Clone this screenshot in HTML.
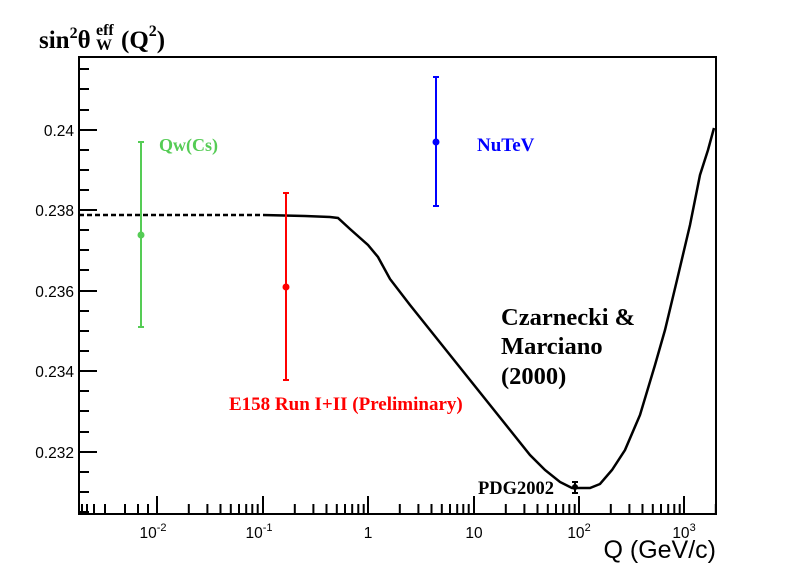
<!DOCTYPE html>
<html><head><style>
body{margin:0;background:#fff;}
svg{display:block;}
.b{font-family:"Liberation Serif",serif;font-weight:bold;}
.s{font-family:"Liberation Sans",sans-serif;}
</style></head><body>
<svg width="796" height="572" xmlns="http://www.w3.org/2000/svg">
<rect width="796" height="572" fill="#fff"/>
<rect x="79" y="57" width="637" height="457" fill="none" stroke="#000" stroke-width="2"/>
<g stroke="#000" stroke-width="2">
<path d="M79 130h18M79 210h18M79 291h18M79 371h18M79 452h18"/>
<path d="M79 69h10M79 89h10M79 110h10M79 150h10M79 170h10M79 190h10M79 230h10M79 250h10M79 270h10M79 311h10M79 331h10M79 351h10M79 391h10M79 411h10M79 432h10M79 472h10M79 492h10M79 512h10"/>
<path d="M157 514v-18M263 514v-18M368 514v-18M474 514v-18M579 514v-18M684 514v-18"/>
</g>
<g stroke="#000" stroke-width="2" fill="none">
<path d="M82 514v-10M87 514v-10M94 514v-10M105 514v-10M125 514v-10M138 514v-10M148 514v-10M157 514v-10"/>
<path d="M0 514v-10M31.8 514v-10M50.4 514v-10M63.5 514v-10M73.8 514v-10M82 514v-10M89.2 514v-10M95.3 514v-10M100.7 514v-10" transform="translate(157,0)"/>
<path d="M0 514v-10M31.8 514v-10M50.4 514v-10M63.5 514v-10M73.8 514v-10M82 514v-10M89.2 514v-10M95.3 514v-10M100.7 514v-10" transform="translate(263,0)"/>
<path d="M0 514v-10M31.8 514v-10M50.4 514v-10M63.5 514v-10M73.8 514v-10M82 514v-10M89.2 514v-10M95.3 514v-10M100.7 514v-10" transform="translate(368,0)"/>
<path d="M0 514v-10M31.8 514v-10M50.4 514v-10M63.5 514v-10M73.8 514v-10M82 514v-10M89.2 514v-10M95.3 514v-10M100.7 514v-10" transform="translate(474,0)"/>
<path d="M0 514v-10M31.8 514v-10M50.4 514v-10M63.5 514v-10M73.8 514v-10M82 514v-10M89.2 514v-10M95.3 514v-10M100.7 514v-10" transform="translate(579,0)"/>
<path d="M0 514v-10M31.8 514v-10" transform="translate(684,0)"/>
</g>
<g class="s" font-size="15.5" text-anchor="end" fill="#000">
<text x="74" y="136">0.24</text>
<text x="74" y="216">0.238</text>
<text x="74" y="297">0.236</text>
<text x="74" y="377">0.234</text>
<text x="74" y="458">0.232</text>
</g>
<g class="s" font-size="15.5" fill="#000" text-anchor="middle">
<text x="153" y="538">10<tspan font-size="11" dy="-7">-2</tspan></text>
<text x="259" y="538">10<tspan font-size="11" dy="-7">-1</tspan></text>
<text x="368" y="538">1</text>
<text x="474" y="538">10</text>
<text x="579" y="538">10<tspan font-size="11" dy="-7">2</tspan></text>
<text x="684" y="538">10<tspan font-size="11" dy="-7">3</tspan></text>
</g>
<text class="s" x="716" y="558" font-size="25" text-anchor="end">Q (GeV/c)</text>
<text class="b" x="39" y="48" font-size="25">sin<tspan font-size="16" dy="-10">2</tspan><tspan dy="10">θ</tspan></text>
<text class="b" x="96" y="35" font-size="16">eff</text>
<text class="b" x="96" y="50" font-size="16">W</text>
<text class="b" x="121" y="48" font-size="25">(Q<tspan font-size="16" dy="-12">2</tspan><tspan dy="12">)</tspan></text>
<path d="M79 215H263" stroke="#000" stroke-width="2.5" stroke-dasharray="5,3" fill="none"/>
<path d="M263 215L305 216L330 217L338 218L350 229L368 245L378 257L390 279L410 305L430 330L450 355L470 380L490 405L510 430L530 455L545 470L560 482L572 488L590 488L600 484L612 470L625 450L640 415L655 365L665 330L677 280L690 225L700 175L708 150L714 128" stroke="#000" stroke-width="2.5" fill="none"/>
<g stroke="#55cc55" stroke-width="2"><path d="M141 142V327M138 142h6M138 327h6"/></g>
<circle cx="141" cy="235" r="3.5" fill="#55cc55"/>
<g stroke="#f00" stroke-width="2"><path d="M286 193V380M283 193h6M283 380h6"/></g>
<circle cx="286" cy="287" r="3.5" fill="#f00"/>
<g stroke="#00f" stroke-width="2"><path d="M436 77V206M433 77h6M433 206h6"/></g>
<circle cx="436" cy="142" r="3.5" fill="#00f"/>
<g stroke="#000" stroke-width="2"><path d="M575 482V493M572 482h6M572 493h6"/></g>
<circle cx="575" cy="487" r="3" fill="#000"/>
<text class="b" x="159" y="151" font-size="18" fill="#55cc55">Qw(Cs)</text>
<text class="b" x="477" y="151" font-size="19" fill="#00f">NuTeV</text>
<text class="b" x="229" y="410" font-size="19" fill="#f00">E158 Run I+II (Preliminary)</text>
<text class="b" x="501" y="325" font-size="24.5">Czarnecki &amp;</text>
<text class="b" x="501" y="354" font-size="24.5">Marciano</text>
<text class="b" x="501" y="384" font-size="24.5">(2000)</text>
<text class="b" x="478" y="494" font-size="18.5">PDG2002</text>
</svg>
</body></html>
